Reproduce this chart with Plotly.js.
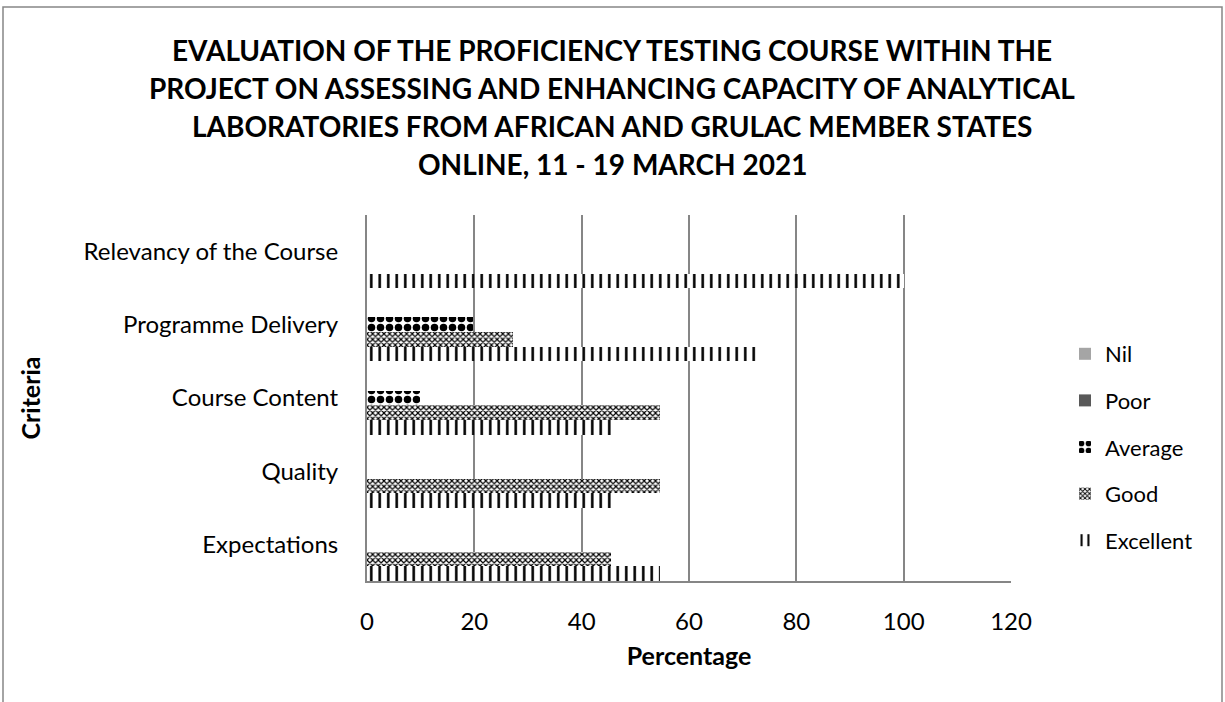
<!DOCTYPE html>
<html>
<head>
<meta charset="utf-8">
<script src="https://cdn.plot.ly/plotly-3.0.1.min.js"></script>
<style>html,body{margin:0;padding:0;background:#fff;}#chart{width:1225px;height:702px;}</style>
</head>
<body>
<div id="chart"></div>
<script>
const categories = ["Expectations", "Quality", "Course Content", "Programme Delivery", "Relevancy of the Course"];
const nilValues = [0, 0, 0, 0, 0];
const poorValues = [0, 0, 0, 0, 0];
const averageValues = [0, 0, 9.9, 19.8, 0];
const goodValues = [45.45, 54.55, 54.55, 27.27, 0];
const excellentValues = [54.55, 45.45, 45.45, 72.73, 100];
const titleLines = [
  "EVALUATION OF THE PROFICIENCY TESTING COURSE WITHIN THE",
  "PROJECT ON ASSESSING AND ENHANCING CAPACITY OF ANALYTICAL",
  "LABORATORIES FROM AFRICAN AND GRULAC MEMBER STATES",
  "ONLINE, 11 - 19 MARCH 2021"
];
const xTicks = [0, 20, 40, 60, 80, 100, 120];

const FONT = "Lato, 'Open Sans', sans-serif";

function barTrace(name, values, marker, group, rank) {
  return {
    type: 'bar', orientation: 'h', name: name,
    x: values, y: categories,
    marker: marker, legendgroup: group, legendrank: rank,
    hoverinfo: 'x+y+name'
  };
}

const traces = [
  barTrace('Excellent', excellentValues, {color: '#ffffff', line: {width: 0},
    pattern: {shape: '|', fgcolor: '#000000', bgcolor: '#ffffff', size: 8.5, solidity: 0.3}}, 'e', 5),
  barTrace('Good', goodValues, {color: '#ffffff', line: {width: 0},
    pattern: {shape: 'x', fgcolor: '#000000', bgcolor: '#ffffff', size: 4, solidity: 0.5}}, 'g', 4),
  barTrace('Average', averageValues, {color: '#ffffff', line: {width: 0},
    pattern: {shape: '.', fgcolor: '#000000', bgcolor: '#ffffff', size: 9, solidity: 0.55}}, 'a', 3),
  barTrace('Poor', poorValues, {color: '#595959', line: {width: 0}}, 'p', 2),
  barTrace('Nil', nilValues, {color: '#a5a5a5', line: {width: 0}}, 'n', 1)
];

const L = 367, R = 1011, T = 215, B = 581, W = 1225, H = 702;
function px2x(px) { return (px - L) / (R - L); }
function py2y(py) { return (B - py) / (B - T); }

const annotations = titleLines.map((t, i) => ({
  text: '<b>' + t + '</b>', xref: 'paper', yref: 'paper',
  x: px2x(612), y: py2y(50 + i * 38), xanchor: 'center', yanchor: 'middle',
  showarrow: false, font: {family: FONT, size: 28, color: '#000'}
}));

const layout = {
  width: W, height: H,
  margin: {l: L, r: W - R, t: T, b: H - B, pad: 0},
  paper_bgcolor: '#ffffff', plot_bgcolor: '#ffffff',
  font: {family: FONT, size: 22, color: '#000'},
  barmode: 'group', bargap: 0, bargroupgap: 0,
  showlegend: true,
  legend: {
    x: px2x(1065), y: py2y(333), xanchor: 'left', yanchor: 'top',
    traceorder: 'grouped', tracegroupgap: 15,
    font: {family: FONT, size: 22, color: '#000'},
    bgcolor: 'rgba(0,0,0,0)', itemwidth: 30
  },
  xaxis: {
    range: [0, 120], tickvals: xTicks, ticktext: xTicks.map(String),
    showgrid: true, gridcolor: '#868686', gridwidth: 2,
    zeroline: false, showline: true, linecolor: '#868686', linewidth: 2,
    ticks: '', ticklabelstandoff: 18,
    tickfont: {family: FONT, size: 24, color: '#000'},
    title: {text: '<b>Percentage</b>', font: {family: FONT, size: 25, color: '#000'}, standoff: 14},
    fixedrange: true
  },
  yaxis: {
    type: 'category', categoryarray: categories, categoryorder: 'array',
    showgrid: false, zeroline: false, showline: true, linecolor: '#868686', linewidth: 2,
    ticks: '', ticklabelstandoff: 22,
    tickfont: {family: FONT, size: 24, color: '#000'},
    title: {text: '<b>Criteria</b>', font: {family: FONT, size: 25, color: '#000'}, standoff: 36},
    fixedrange: true
  },
  annotations: annotations,
  shapes: [{
    type: 'rect', xref: 'paper', yref: 'paper',
    x0: px2x(3), x1: px2x(1222), y0: py2y(720), y1: py2y(7),
    line: {color: '#868686', width: 1.5}, fillcolor: 'rgba(0,0,0,0)', layer: 'below'
  }]
};

Plotly.newPlot('chart', traces, layout, {displayModeBar: false, staticPlot: true});
</script>
</body>
</html>
